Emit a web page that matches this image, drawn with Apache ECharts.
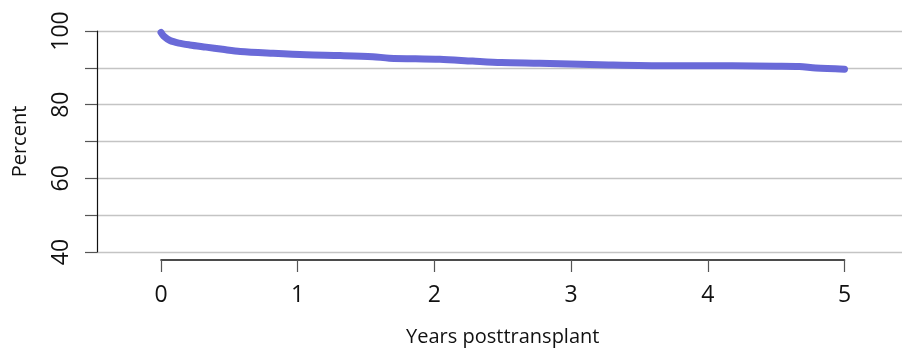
<!DOCTYPE html>
<html>
<head>
<meta charset="utf-8">
<script src="https://cdn.jsdelivr.net/npm/echarts@6/dist/echarts.min.js"></script>
<style>html,body{margin:0;padding:0;background:#fff}#c{width:902px;height:352px}</style>
</head>
<body>
<div id="c"></div>
<script>
var years = [0, 0.02, 0.066, 0.13, 0.21, 0.33, 0.45, 0.58, 0.82, 1.06, 1.31, 1.55, 1.67, 2.04, 2.28, 2.49, 2.77, 3.21, 3.70, 4.18, 4.5, 4.67, 4.79, 5.0];
var percent = [99.6, 98.6, 97.4, 96.7, 96.2, 95.6, 95.0, 94.4, 93.9, 93.5, 93.3, 93.0, 92.6, 92.3, 91.8, 91.4, 91.2, 90.8, 90.5, 90.5, 90.4, 90.3, 89.9, 89.6];
var yLabels = [40, 60, 80, 100];
var xTitle = 'Years posttransplant';
var yTitle = 'Percent';

var font = '"Open Sans", sans-serif';
var chart = echarts.init(document.getElementById('c'), null, {renderer: 'canvas'});
var data = years.map(function (y, i) { return [y, percent[i]]; });
chart.setOption({
  animation: false,
  textStyle: {fontFamily: font},
  grid: [
    {left: 97, right: 0, top: 31, bottom: 100},
    {left: 161, right: 57.5, top: 31, bottom: 91}
  ],
  xAxis: [
    {gridIndex: 0, type: 'value', show: false, min: 0, max: 1},
    {gridIndex: 1, type: 'value', min: 0, max: 5, interval: 1, position: 'bottom',
     axisLine: {show: true, onZero: false, lineStyle: {color: '#111', width: 1.6}},
     axisTick: {show: true, length: 12, lineStyle: {color: '#555', width: 1.2}},
     splitLine: {show: false},
     axisLabel: {fontSize: 23, color: '#111', margin: 24, fontFamily: font},
     name: xTitle, nameLocation: 'middle', nameGap: 67,
     nameTextStyle: {fontSize: 20, color: '#111', fontFamily: font}}
  ],
  yAxis: [
    {gridIndex: 0, type: 'value', min: 40, max: 100, interval: 10,
     axisLine: {show: true, onZero: false, lineStyle: {color: '#111', width: 1.2}},
     axisTick: {show: true, length: 12, lineStyle: {color: '#555', width: 1.2}},
     splitLine: {show: true, lineStyle: {color: '#c4c4c4', width: 1.3}},
     axisLabel: {fontSize: 23, color: '#111', margin: 24, rotate: 90, fontFamily: font,
       formatter: function (v) { return yLabels.indexOf(v) >= 0 ? String(v) : ''; }},
     name: yTitle, nameLocation: 'middle', nameGap: 67, nameRotate: 90,
     nameTextStyle: {fontSize: 20, color: '#111', fontFamily: font}},
    {gridIndex: 1, type: 'value', min: 37.556, max: 100, show: false}
  ],
  series: [{
    type: 'line', xAxisIndex: 1, yAxisIndex: 1, data: data,
    showSymbol: false, symbol: 'none', smooth: 0.3,
    lineStyle: {color: '#6a6ad8', width: 7, cap: 'round', join: 'round'}
  }]
});
</script>
</body>
</html>
